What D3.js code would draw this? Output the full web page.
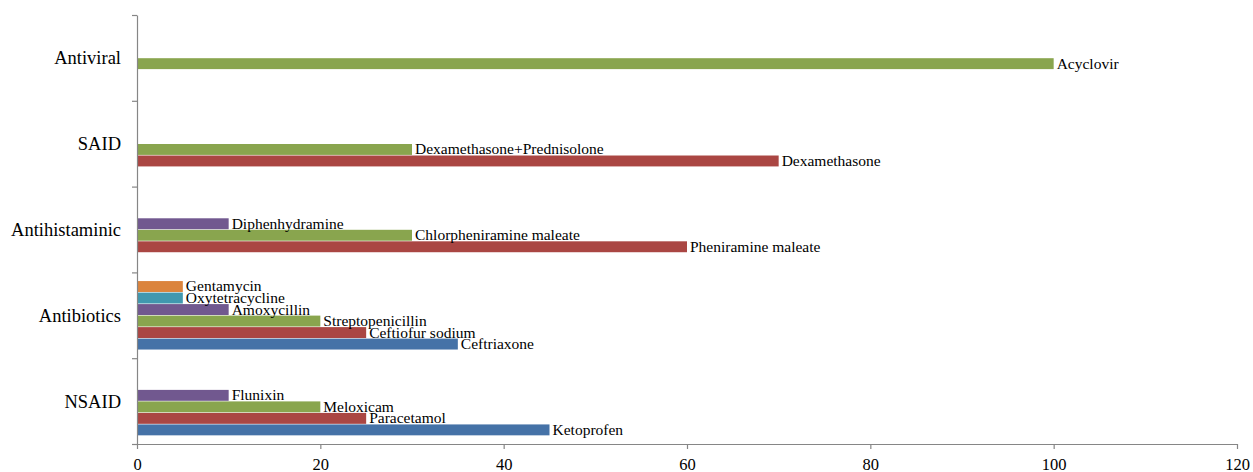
<!DOCTYPE html>
<html>
<head>
<meta charset="utf-8">
<script src="https://cdn.jsdelivr.net/npm/d3@7"></script>
<style>
  html, body { margin: 0; padding: 0; background: #fff; }
  svg { display: block; }
</style>
</head>
<body>
<svg id="chart" width="1253" height="472"></svg>
<script>
// ---- data ----
const categories = ["NSAID", "Antibiotics", "Antihistaminic", "SAID", "Antiviral"];
const xTicks = [0, 20, 40, 60, 80, 100, 120];

// series values per category (null = no bar)
const series1Values = [45, 35, null, null, null];
const series1Drugs  = ["Ketoprofen", "Ceftriaxone", null, null, null];
const series2Values = [25, 25, 60, 70, null];
const series2Drugs  = ["Paracetamol", "Ceftiofur sodium", "Pheniramine maleate", "Dexamethasone", null];
const series3Values = [20, 20, 30, 30, 100];
const series3Drugs  = ["Meloxicam", "Streptopenicillin", "Chlorpheniramine maleate", "Dexamethasone+Prednisolone", "Acyclovir"];
const series4Values = [10, 10, 10, null, null];
const series4Drugs  = ["Flunixin", "Amoxycillin", "Diphenhydramine", null, null];
const series5Values = [null, 5, null, null, null];
const series5Drugs  = [null, "Oxytetracycline", null, null, null];
const series6Values = [null, 5, null, null, null];
const series6Drugs  = [null, "Gentamycin", null, null, null];

const seriesColors = ["#4572A7", "#AA4643", "#89A54E", "#71588F", "#4198AF", "#DB843D"];

const allValues = [series1Values, series2Values, series3Values, series4Values, series5Values, series6Values];
const allDrugs  = [series1Drugs, series2Drugs, series3Drugs, series4Drugs, series5Drugs, series6Drugs];

// ---- layout ----
const svg = d3.select("#chart");
const plotLeft = 137, plotRight = 1237, plotTop = 15, plotBottom = 444;
const serif = "'Liberation Serif', 'Times New Roman', serif";
const axisColor = "#868686";

const x = d3.scaleLinear().domain([0, 120]).range([plotLeft, plotRight]);
const y = d3.scaleBand()
  .domain(categories.slice().reverse())
  .range([plotTop, plotBottom])
  .paddingInner(0.195)
  .paddingOuter(0.0975);
const seriesIdx = d3.range(allValues.length);
const ySub = d3.scaleBand().domain(seriesIdx).range([y.bandwidth(), 0]);

// build records
const bars = [];
seriesIdx.forEach(s => {
  categories.forEach((c, i) => {
    const v = allValues[s][i];
    if (v !== null && v !== undefined) bars.push({ s, cat: c, value: v, drug: allDrugs[s][i] });
  });
});

// bars
svg.append("g").selectAll("rect").data(bars).join("rect")
  .attr("x", x(0))
  .attr("y", d => y(d.cat) + ySub(d.s) + 0.3)
  .attr("width", d => x(d.value) - x(0))
  .attr("height", ySub.bandwidth() - 0.6)
  .attr("fill", d => seriesColors[d.s]);

// data labels
svg.append("g").selectAll("text").data(bars).join("text")
  .attr("x", d => x(d.value) + 3)
  .attr("y", d => y(d.cat) + ySub(d.s) + ySub.bandwidth() / 2)
  .attr("dy", "0.32em")
  .attr("font-family", serif)
  .attr("font-size", "15.5px")
  .attr("fill", "#000")
  .text(d => d.drug);

// x axis
const xAxis = svg.append("g")
  .attr("transform", `translate(0,${plotBottom})`)
  .call(d3.axisBottom(x).tickValues(xTicks).tickSize(5).tickSizeOuter(0).tickFormat(d3.format("d")));
xAxis.select(".domain").attr("stroke", axisColor).attr("stroke-width", 1.2);
xAxis.selectAll(".tick line").attr("stroke", axisColor).attr("stroke-width", 1.2);
xAxis.selectAll(".tick text")
  .attr("y", 25.5).attr("dy", 0)
  .attr("font-family", serif).attr("font-size", "16.5px").attr("fill", "#000");

// y axis: ticks at band boundaries
const yBound = d3.scaleLinear().domain([0, categories.length]).range([plotBottom, plotTop]);
const yAxis = svg.append("g")
  .attr("transform", `translate(${plotLeft},0)`)
  .call(d3.axisLeft(yBound).ticks(categories.length).tickSize(5).tickSizeOuter(0).tickFormat(""));
yAxis.select(".domain").attr("stroke", axisColor).attr("stroke-width", 1.2);
yAxis.selectAll(".tick line").attr("stroke", axisColor).attr("stroke-width", 1.2);

// category labels
svg.append("g").selectAll("text").data(categories).join("text")
  .attr("x", 121)
  .attr("y", d => y(d) + y.bandwidth() / 2)
  .attr("dy", "0.35em")
  .attr("text-anchor", "end")
  .attr("font-family", serif)
  .attr("font-size", "18.5px")
  .attr("fill", "#000")
  .text(d => d);
</script>
</body>
</html>
